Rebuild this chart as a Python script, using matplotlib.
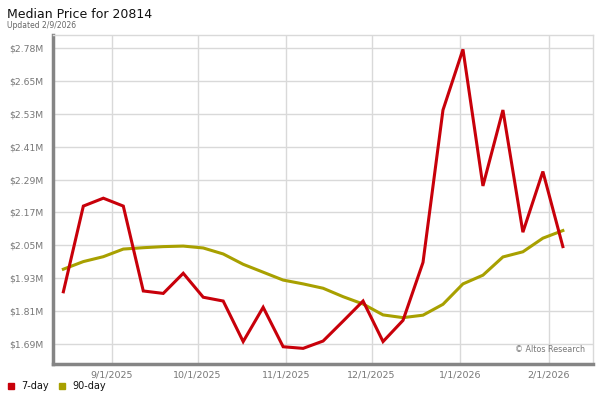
import matplotlib
matplotlib.use("Agg")
import matplotlib.pyplot as plt
import matplotlib.dates as mdates
import numpy as np
from datetime import datetime

dates = ["2025-08-15", "2025-08-22", "2025-08-29", "2025-09-05", "2025-09-12", "2025-09-19",
         "2025-09-26", "2025-10-03", "2025-10-10", "2025-10-17", "2025-10-24", "2025-10-31",
         "2025-11-07", "2025-11-14", "2025-11-21", "2025-11-28", "2025-12-05", "2025-12-12",
         "2025-12-19", "2025-12-26", "2026-01-02", "2026-01-09", "2026-01-16", "2026-01-23",
         "2026-01-30", "2026-02-06"]

seven_day = [1.883, 2.198, 2.227, 2.198, 1.886, 1.877, 1.951, 1.863, 1.849, 1.700,
             1.826, 1.681, 1.675, 1.702, 1.775, 1.849, 1.700, 1.778, 1.991, 2.551,
             2.774, 2.272, 2.551, 2.102, 2.325, 2.049]

ninety_day = [1.966, 1.994, 2.012, 2.040, 2.045, 2.049, 2.051, 2.044, 2.022, 1.984,
              1.955, 1.926, 1.912, 1.896, 1.865, 1.838, 1.798, 1.788, 1.797, 1.837,
              1.912, 1.944, 2.011, 2.030, 2.080, 2.108]

y_tick_labels = ["$1.69M", "$1.81M", "$1.93M", "$2.05M", "$2.17M",
                 "$2.29M", "$2.41M", "$2.53M", "$2.65M", "$2.78M"]
x_tick_dates = ["2025-09-01", "2025-10-01", "2025-11-01", "2025-12-01", "2026-01-01", "2026-02-01"]
x_tick_labels = ["9/1/2025", "10/1/2025", "11/1/2025", "12/1/2025", "1/1/2026", "2/1/2026"]

RED = "#c8000a"
OLIVE = "#a8a000"
GRID = "#d9d9d9"
TXT = "#777777"

plt.rcParams['font.family'] = ['DejaVu Sans']

fig = plt.figure(figsize=(6, 4), dpi=100)
ax = fig.add_axes([0.088, 0.09, 0.901, 0.822])

x = [mdates.date2num(datetime.strptime(d, "%Y-%m-%d")) for d in dates]
ax.plot(x, ninety_day, color=OLIVE, lw=2.2, solid_joinstyle='miter', zorder=3)
ax.plot(x, seven_day, color=RED, lw=2.2, solid_joinstyle='miter', zorder=4)

yt = np.linspace(1.69, 2.78, len(y_tick_labels))
ax.set_yticks(yt)
ax.set_yticklabels(y_tick_labels)
xt = [mdates.date2num(datetime.strptime(d, "%Y-%m-%d")) for d in x_tick_dates]
ax.set_xticks(xt)
ax.set_xticklabels(x_tick_labels)

step = yt[1] - yt[0]
ax.set_ylim(yt[0] - step * 0.598, yt[0] + step * 9.38)
ax.set_xlim(x[0] - 3.7, x[-1] + 10.7)

ax.grid(True, color=GRID, lw=1.0, zorder=0)
ax.set_axisbelow(True)
ax.tick_params(axis='both', length=0, labelcolor=TXT)
ax.tick_params(axis='y', pad=7, labelsize=6.7)
ax.tick_params(axis='x', pad=5, labelsize=6.8)

for s in ['top', 'right']:
    ax.spines[s].set_color(GRID)
    ax.spines[s].set_linewidth(1.0)
for s in ['left', 'bottom']:
    ax.spines[s].set_color("#858585")
    ax.spines[s].set_linewidth(2.5)

ax.text(0.985, 0.03, "\u00a9 Altos Research", transform=ax.transAxes, ha='right', va='bottom',
        fontsize=5.8, color=TXT)

fig.text(0.012, 0.965, "Median Price for 20814", fontsize=9, color="#111111", ha='left', va='center')
fig.text(0.012, 0.937, "Updated 2/9/2026", fontsize=5.5, color="#666666", ha='left', va='center')

# legend
fig.patches.append(plt.Rectangle((0.013, 0.027), 0.011, 0.016, transform=fig.transFigure,
                                 color=RED, figure=fig))
fig.text(0.036, 0.035, "7-day", fontsize=7, color="#111111", ha='left', va='center')
fig.patches.append(plt.Rectangle((0.098, 0.027), 0.011, 0.016, transform=fig.transFigure,
                                 color=OLIVE, figure=fig))
fig.text(0.121, 0.035, "90-day", fontsize=7, color="#111111", ha='left', va='center')

fig.savefig("out.png", dpi=100)
